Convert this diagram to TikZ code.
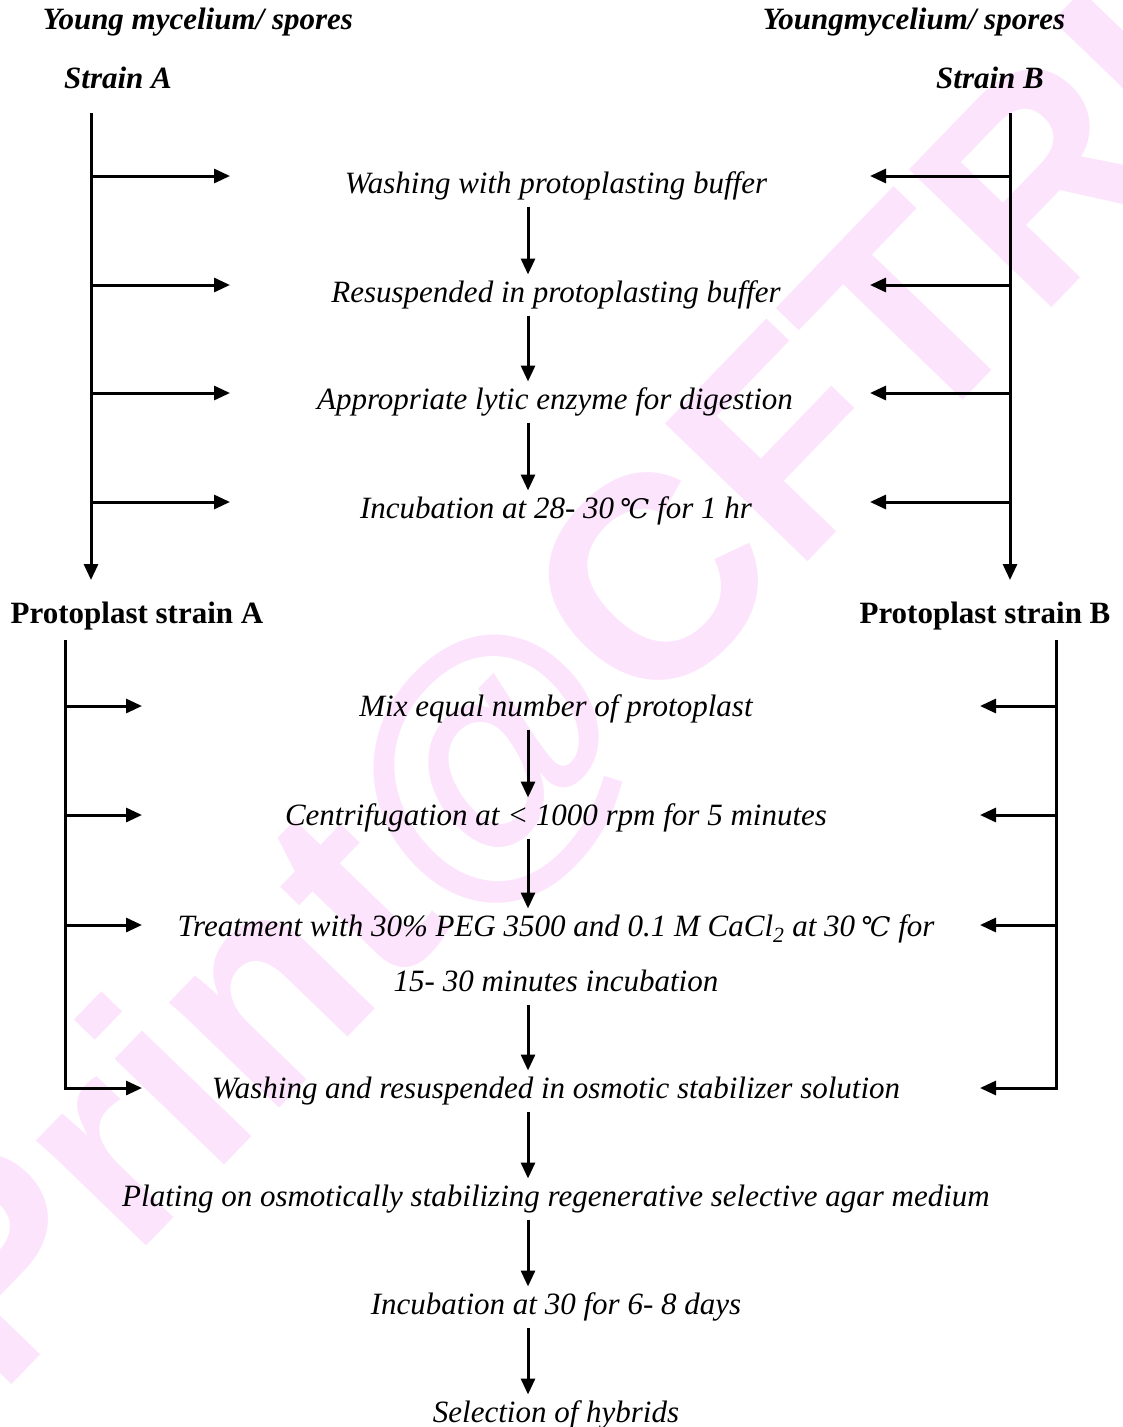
\documentclass[tikz,border=0pt]{standalone}
\usepackage{fontspec}
\setmainfont{Liberation Serif}
\newfontfamily\wmfont{Liberation Sans}
\newfontfamily\degfont{DejaVu Serif}
\usetikzlibrary{arrows.meta,positioning}
\definecolor{wmpink}{HTML}{FCE4FC}
\newcommand{\degC}{{\degfont\fontsize{27}{36}\selectfont ℃}}

\begin{document}
\begin{tikzpicture}[x=1pt,y=-1pt,
    every node/.style={inner sep=0pt},
    stepnode/.style={font=\fontsize{31}{36}\selectfont\itshape,
                     text height=22pt, text depth=7pt, outer sep=6pt},
    headnode/.style={font=\fontsize{31}{36}\selectfont\bfseries\itshape},
    protonode/.style={font=\fontsize{31}{36}\selectfont\bfseries},
    flow/.style={-{Triangle[length=16pt,width=14pt]}, line width=3pt}]

\useasboundingbox (0,0) rectangle (1122,1427);

% watermark
\node[text=wmpink, rotate=46, font=\wmfont\bfseries\fontsize{288}{298}\selectfont] (wm) at (560,700) {Print@CFTRI};

% strains
\node[headnode] (ya) at (198,22) {Young mycelium/ spores};
\node[headnode] (yb) at (914,22) {Youngmycelium/ spores};
\node[headnode] (sa) at (118,78) {Strain A};
\node[headnode] (sb) at (990,78) {Strain B};

\coordinate (aTop) at (91,113);
\coordinate (aEnd) at (91,580);
\coordinate (bTop) at (1010,113);
\coordinate (bEnd) at (1010,580);
\coordinate (mid) at (528,0);

\draw[flow] (aTop) -- (aEnd);
\draw[flow] (bTop) -- (bEnd);
\foreach \y in {176,285,393,502}{
  \draw[flow] (91,\y) -- (230,\y);
  \draw[flow] (1010,\y) -- (870,\y);
}

% protoplasting
\node[stepnode] (s1) at (556,186) {Washing with protoplasting buffer};
\node[stepnode] (s2) at (556,295) {Resuspended in protoplasting buffer};
\node[stepnode] (s3) at (555,402) {Appropriate lytic enzyme for digestion};
\node[stepnode] (s4) at (556,511) {Incubation at 28- 30\,\degC\ for 1 hr};

\draw[flow] (s1.south -| mid) -- (s2.north -| mid);
\draw[flow] (s2.south -| mid) -- (s3.north -| mid);
\draw[flow] (s3.south -| mid) -- (s4.north -| mid);

% fusion
\node[protonode] (pa) at (137,616) {Protoplast strain A};
\node[protonode] (pb) at (985,616) {Protoplast strain B};

\draw[flow] (65,640) |- (142,1088);
\draw[flow] (1056,640) |- (980,1088);
\foreach \y in {706,815,925}{
  \draw[flow] (65,\y) -- (142,\y);
  \draw[flow] (1056,\y) -- (980,\y);
}

\node[stepnode] (m1) at (556,709) {Mix equal number of protoplast};
\node[stepnode] (m2) at (556,818) {Centrifugation at < 1000 rpm for 5 minutes};
\node[stepnode] (m3) at (556,929) {Treatment with 30\% PEG 3500 and 0.1 M CaCl\textsubscript{2} at 30\,\degC\ for};
\node[stepnode] (m3b) at (556,984) {15- 30 minutes incubation};
\node[stepnode] (m4) at (556,1091) {Washing and resuspended in osmotic stabilizer solution};
\node[stepnode] (m5) at (556,1199) {Plating on osmotically stabilizing regenerative selective agar medium};
\node[stepnode] (m6) at (556,1307) {Incubation at 30 for 6- 8 days};
\node[stepnode] (m7) at (556,1415) {Selection of hybrids};

\draw[flow] (m1.south -| mid) -- (m2.north -| mid);
\draw[flow] (m2.south -| mid) -- (m3.north -| mid);
\draw[flow] (m3b.south -| mid) -- (m4.north -| mid);
\draw[flow] (m4.south -| mid) -- (m5.north -| mid);
\draw[flow] (m5.south -| mid) -- (m6.north -| mid);
\draw[flow] (m6.south -| mid) -- (m7.north -| mid);
\end{tikzpicture}
\end{document}
